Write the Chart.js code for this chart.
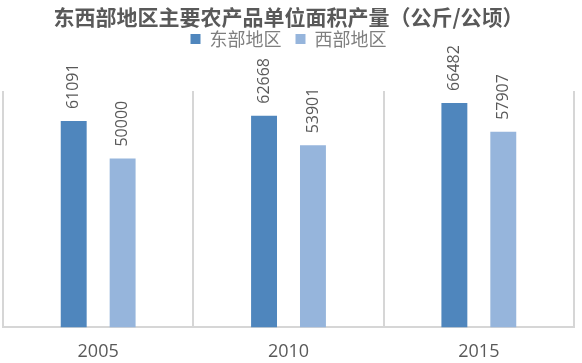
<!DOCTYPE html>
<html>
<head>
<meta charset="utf-8">
<script src="https://cdn.jsdelivr.net/npm/chart.js@4/dist/chart.umd.min.js"></script>
<style>
  body { margin: 0; background: #fff; }
  #wrap { width: 582px; height: 363px; }
</style>
</head>
<body>
<div id="wrap"><canvas id="myChart" width="582" height="363"></canvas></div>
<script>
// data
const years = ['2005', '2010', '2015'];
const east = [61091, 62668, 66482];
const west = [50000, 53901, 57907];
const seriesNames = ['东部地区', '西部地区'];
const titleText = '东西部地区主要农产品单位面积产量（公斤/公顷）';

// push the plot down under the legend
const legendGap = {
  id: 'legendGap',
  beforeInit(chart) {
    const fit = chart.legend.fit;
    chart.legend.fit = function () {
      fit.bind(chart.legend)();
      this.height += 33;
    };
  }
};

// rotated value labels above each bar
const valueLabels = {
  id: 'valueLabels',
  afterDatasetsDraw(chart) {
    const ctx = chart.ctx;
    chart.data.datasets.forEach((ds, i) => {
      const meta = chart.getDatasetMeta(i);
      meta.data.forEach((bar, j) => {
        ctx.save();
        ctx.translate(bar.x, bar.y - 12);
        ctx.rotate(-Math.PI / 2);
        ctx.font = '16px "Open Sans"';
        ctx.fillStyle = '#595959';
        ctx.textAlign = 'left';
        ctx.textBaseline = 'middle';
        ctx.fillText(String(ds.data[j]), 0, 0);
        ctx.restore();
      });
    });
  }
};

const ctx = document.getElementById('myChart');
const myChart = new Chart(ctx, {
  type: 'bar',
  data: {
    labels: years,
    datasets: [{
      label: seriesNames[0],
      data: east,
      backgroundColor: '#4f86bd'
    }, {
      label: seriesNames[1],
      data: west,
      backgroundColor: '#96b5dc'
    }]
  },
  options: {
    responsive: false,
    animation: false,
    categoryPercentage: 0.514,
    barPercentage: 0.53,
    layout: { padding: { left: 3, right: 8, top: 0, bottom: -14 } },
    plugins: {
      title: {
        display: true,
        text: titleText,
        color: '#595959',
        font: { family: '"Noto Sans CJK SC"', size: 21, weight: 'bold', lineHeight: 1 },
        padding: { top: 7, bottom: -12 }
      },
      legend: {
        display: true,
        position: 'top',
        labels: {
          boxWidth: 10,
          boxHeight: 10,
          padding: 14,
          color: '#7f7f7f',
          font: { family: '"Noto Sans CJK SC"', size: 18 }
        }
      },
      tooltip: { enabled: false }
    },
    scales: {
      x: {
        grid: {
          offset: true,
          color: '#d6d6d6',
          lineWidth: 2,
          drawTicks: false
        },
        border: { display: true, color: '#d6d6d6', width: 2 },
        ticks: {
          color: '#595959',
          padding: 14,
          font: { family: '"Open Sans"', size: 18 }
        }
      },
      y: {
        display: false,
        min: 0,
        max: 70000
      }
    }
  },
  plugins: [legendGap, valueLabels]
});
</script>
</body>
</html>
